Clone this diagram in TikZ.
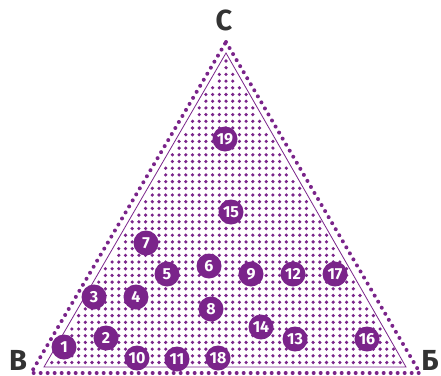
\documentclass[tikz,border=0pt]{standalone}
\usepackage{fontspec}
\setmainfont{Fira Sans}
\definecolor{plum}{RGB}{122,36,138}
\begin{document}
\begin{tikzpicture}[x=1pt,y=-1pt,
  num/.style={circle,fill=plum,text=white,inner sep=0pt,minimum size=25pt,font=\bfseries\fontsize{16}{16}\selectfont},
  vtx/.style={text=black!80,inner sep=0pt,anchor=base,font=\bfseries\fontsize{29}{29}\selectfont}]
\useasboundingbox (0,0) rectangle (441,375);
\coordinate (oC) at (226,42); \coordinate (oB) at (31,373); \coordinate (oA) at (420,373);
\coordinate (iC) at (226,53); \coordinate (iB) at (44,367); \coordinate (iA) at (406,367);
\draw[plum,line width=4pt,line cap=round,dash pattern=on 0pt off 7pt](oC)--(oA)--(oB)--cycle;
\draw[plum,line width=0.8pt](iC)--(iA)--(iB)--cycle;
\foreach \r in {0,...,45}{
  \pgfmathsetmacro\yy{362.5-6.7*\r}
  \pgfmathtruncatemacro\n{((\yy-54)*0.578-3)/6.7}
  \pgfmathtruncatemacro\m{2*\n}
  \foreach \c in {0,...,\m}{\fill[plum](226+6.7*\c-6.7*\n,\yy)circle(1.8);}
}
\node[vtx](lC) at (224,30){С};
\node[vtx](lB) at (18,370){В};
\node[vtx](lA) at (430,370){Б};
\foreach \x/\y/\k in {64/347/1,106/338/2,94/297/3,136/297/4,167/274/5,209/266/6,146/243/7,211/309/8,251/274/9,137/358/10,177/359/11,293/274/12,295/339/13,261/327/14,231/212/15,367/339/16,335/274/17,218/358/18,225/139/19}
  {\node[num](n\k) at (\x,\y){\k};}
\end{tikzpicture}
\end{document}
